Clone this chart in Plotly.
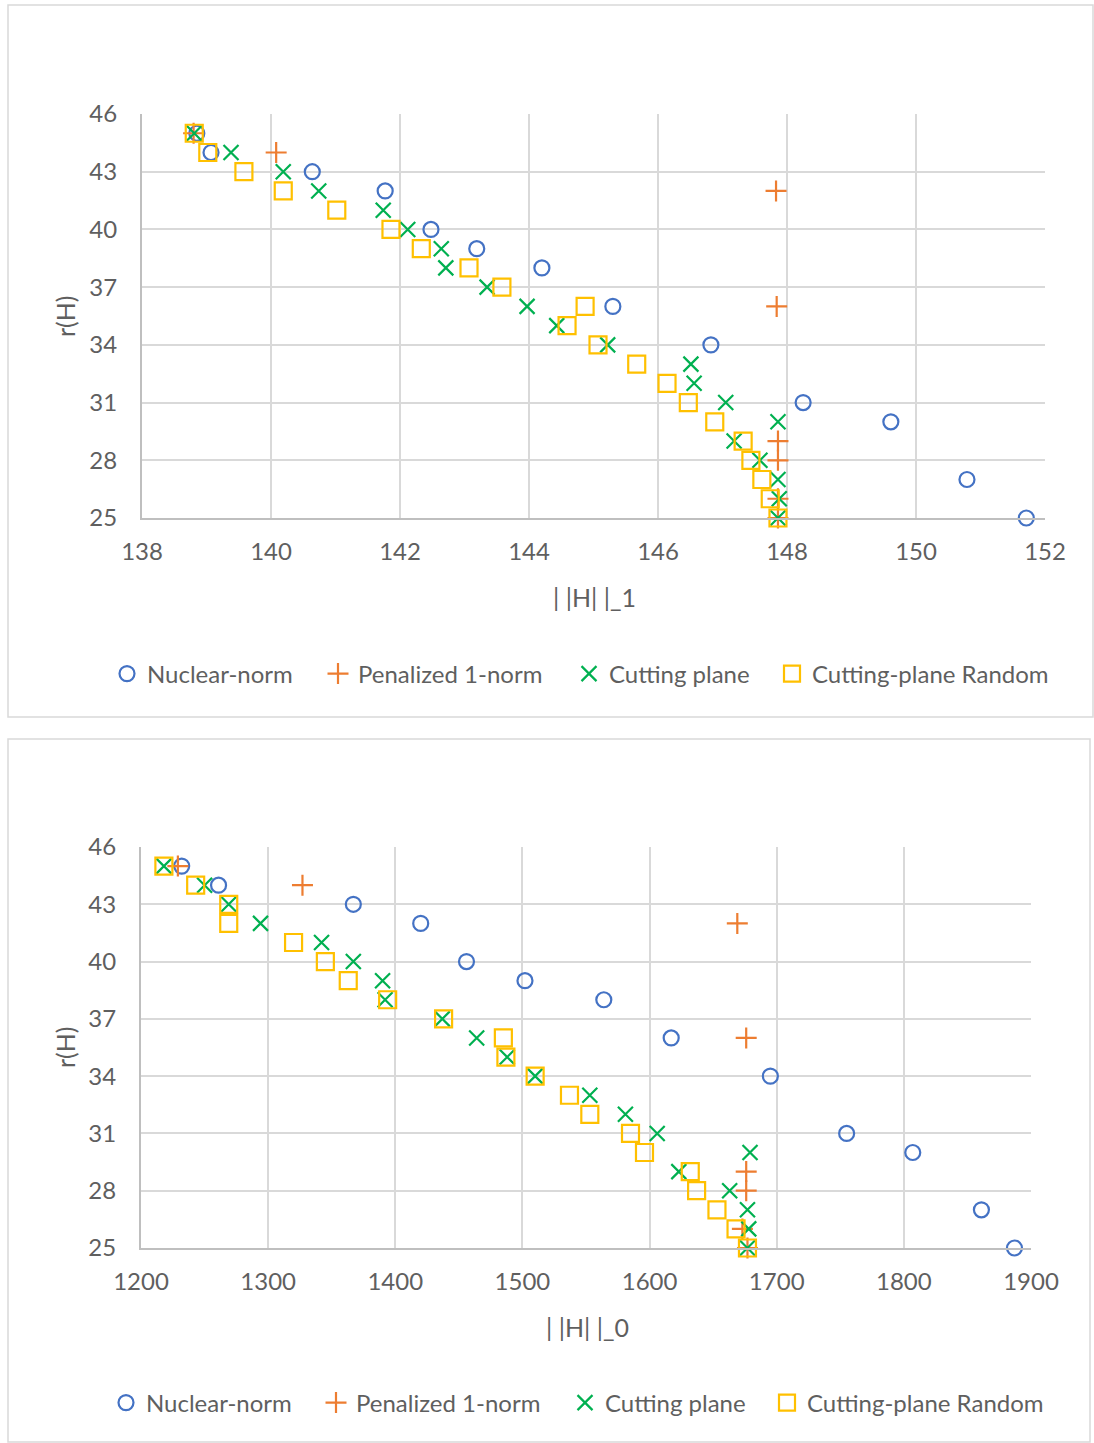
import plotly.graph_objects as go

# ---------------- data ----------------
ranks_all = [45, 44, 43, 42, 41, 40, 39, 38, 37, 36, 35, 34, 33, 32, 31, 30, 29, 28, 27, 26, 25]
ranks_nuclear = [45, 44, 43, 42, 40, 39, 38, 36, 34, 31, 30, 27, 25]
ranks_penal = [45, 44, 42, 36, 29, 28, 26, 25]

# top chart: ||H||_1
nuclear_l1 = [138.85, 139.07, 140.64, 141.77, 142.48, 143.19, 144.20, 145.30, 146.82, 148.25, 149.61, 150.79, 151.71]
penal_l1 = [138.80, 140.08, 147.83, 147.84, 147.86, 147.86, 147.86, 147.86]
cutting_l1 = [138.81, 139.38, 140.19, 140.74, 141.74, 142.12, 142.64, 142.71, 143.35, 143.97, 144.43,
              145.22, 146.51, 146.56, 147.05, 147.86, 147.18, 147.58, 147.86, 147.88, 147.86]
random_l1 = [138.81, 139.02, 139.58, 140.19, 141.02, 141.86, 142.33, 143.07, 143.58, 144.87, 144.59,
             145.07, 145.67, 146.14, 146.47, 146.88, 147.32, 147.44, 147.61, 147.74, 147.86]

# bottom chart: ||H||_0
nuclear_l0 = [1232, 1261, 1367, 1420, 1456, 1502, 1564, 1617, 1695, 1755, 1807, 1861, 1887]
penal_l0 = [1229, 1327, 1669, 1676, 1676, 1676, 1673, 1677]
cutting_l0 = [1218, 1250, 1269, 1294, 1342, 1367, 1390, 1392, 1437, 1464, 1488, 1510, 1553, 1581,
              1606, 1679, 1623, 1663, 1677, 1678, 1677]
random_l0 = [1218, 1243, 1269, 1269, 1320, 1345, 1363, 1394, 1438, 1485, 1487, 1510, 1537, 1553,
             1585, 1596, 1632, 1637, 1653, 1668, 1677]

series_names = ["Nuclear-norm", "Penalized 1-norm", "Cutting plane", "Cutting-plane Random"]
x_title_top = "| |H| |_1"
x_title_bottom = "| |H| |_0"
y_title = "r(H)"

# ---------------- style ----------------
W, H = 1094, 1443
FONT = "Lato"
GRAY = "#5f5f5f"
GRID = "#d9d9d9"
colors = ["#4472C4", "#ED7D31", "#00B050", "#FFC000"]
symbols = ["circle-open", "cross-thin-open", "x-thin-open", "square-open"]
sizes = [15, 15, 15, 17]

# legend symbol centre positions (px) for each chart
legend_sym_x = [[128, 339, 590, 793], [127, 337, 586, 788]]
legend_y = [674, 1403]


def px_x(p):
    return p / W


def px_y(p):
    return 1 - p / H


fig = go.Figure()
legend_layouts = {}

datasets = [
    ("x", "y", [nuclear_l1, penal_l1, cutting_l1, random_l1]),
    ("x2", "y2", [nuclear_l0, penal_l0, cutting_l0, random_l0]),
]
ys = [ranks_nuclear, ranks_penal, ranks_all, ranks_all]
k = 0
for c, (xa, ya, vals) in enumerate(datasets):
    for i in range(4):
        k += 1
        leg = "legend" if k == 1 else f"legend{k}"
        fig.add_trace(go.Scatter(
            x=vals[i], y=ys[i], mode="markers", name=series_names[i],
            xaxis=xa, yaxis=ya, legend=leg, cliponaxis=False,
            marker=dict(symbol=symbols[i], size=sizes[i], color=colors[i],
                        line=dict(color=colors[i], width=2.2)),
        ))
        legend_layouts[leg] = dict(
            orientation="h", x=px_x(legend_sym_x[c][i] - 21), xanchor="left",
            y=px_y(legend_y[c]), yanchor="middle", itemwidth=30,
            font=dict(family=FONT, size=24, color=GRAY), bgcolor="rgba(0,0,0,0)")

axis_common = dict(showgrid=True, gridcolor=GRID, gridwidth=2, zeroline=False,
                   showline=True, linecolor="#bfbfbf", linewidth=2, automargin=False,
                   tickfont=dict(family=FONT, size=24, color=GRAY), ticks="")

top_x_dom = [px_x(142), px_x(1045)]
top_y_dom = [px_y(518), px_y(114)]
bot_x_dom = [px_x(141), px_x(1031)]
bot_y_dom = [px_y(1248), px_y(847)]

fig.update_layout(
    template="none",
    width=W, height=H, margin=dict(l=0, r=0, t=0, b=0, pad=0, autoexpand=False),
    paper_bgcolor="white", plot_bgcolor="white",
    font=dict(family=FONT, color=GRAY),
    xaxis=dict(domain=top_x_dom, anchor="y", range=[138, 152], dtick=2, tick0=138,
               ticklabelstandoff=11, **axis_common),
    yaxis=dict(domain=top_y_dom, anchor="x", range=[25, 46], dtick=3, tick0=25,
               ticklabelstandoff=18, **axis_common),
    xaxis2=dict(domain=bot_x_dom, anchor="y2", range=[1200, 1900], dtick=100, tick0=1200,
                ticklabelstandoff=11, **axis_common),
    yaxis2=dict(domain=bot_y_dom, anchor="x2", range=[25, 46], dtick=3, tick0=25,
                ticklabelstandoff=18, **axis_common),
    showlegend=True,
    **legend_layouts,
)

# chart frames
fig.add_shape(type="rect", xref="paper", yref="paper",
              x0=px_x(8), x1=px_x(1093), y0=px_y(717), y1=px_y(5),
              line=dict(color=GRID, width=1.5), fillcolor="rgba(0,0,0,0)", layer="below")
fig.add_shape(type="rect", xref="paper", yref="paper",
              x0=px_x(8), x1=px_x(1090), y0=px_y(1442), y1=px_y(739),
              line=dict(color=GRID, width=1.5), fillcolor="rgba(0,0,0,0)", layer="below")

# axis titles
title_font = dict(family=FONT, size=25, color=GRAY)
fig.add_annotation(text=x_title_top, xref="paper", yref="paper", x=px_x(594), y=px_y(597),
                   showarrow=False, font=title_font, xanchor="center", yanchor="middle")
fig.add_annotation(text=y_title, xref="paper", yref="paper", x=px_x(65), y=px_y(316),
                   showarrow=False, font=title_font, textangle=-90, xanchor="center", yanchor="middle")
fig.add_annotation(text=x_title_bottom, xref="paper", yref="paper", x=px_x(587), y=px_y(1327),
                   showarrow=False, font=title_font, xanchor="center", yanchor="middle")
fig.add_annotation(text=y_title, xref="paper", yref="paper", x=px_x(65), y=px_y(1047),
                   showarrow=False, font=title_font, textangle=-90, xanchor="center", yanchor="middle")

fig.write_html("out.html")
